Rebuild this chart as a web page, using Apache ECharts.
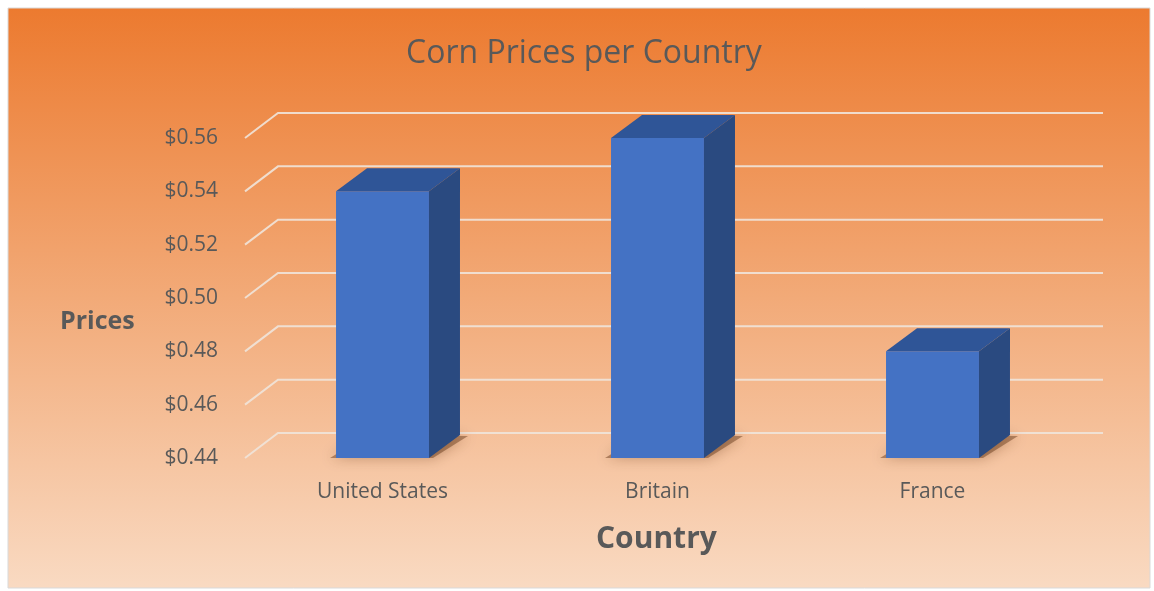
<!DOCTYPE html>
<html>
<head>
<meta charset="utf-8">
<script src="https://cdn.jsdelivr.net/npm/echarts@6/dist/echarts.min.js"></script>
<style>
  html, body { margin: 0; padding: 0; background: #fff; }
  #main { width: 1154px; height: 591px; }
</style>
</head>
<body>
<div id="main"></div>
<script>
const categories = ['United States', 'Britain', 'France'];
const prices = [0.54, 0.56, 0.48];
const yTicks = [0.44, 0.46, 0.48, 0.50, 0.52, 0.54, 0.56];

// 3d look: offset of the back wall and of the bar's back face
const WALL_DX = 33, WALL_DY = -25;
const BAR_DX = 31, BAR_DY = -23;

const textColor = '#595959';
const font = '"Open Sans", "Noto Sans", sans-serif';
const yMin = yTicks[0];

const chart = echarts.init(document.getElementById('main'));

function renderGridLine(params, api) {
  const cs = params.coordSys;
  const y = api.coord([0, api.value(1)])[1];
  const left = cs.x;
  const right = cs.x + cs.width;
  return {
    type: 'polyline',
    shape: {
      points: [
        [left, y],
        [left + WALL_DX, y + WALL_DY],
        [right + WALL_DX, y + WALL_DY]
      ]
    },
    style: { stroke: 'rgba(240,228,218,0.9)', lineWidth: 2, fill: null },
    silent: true
  };
}

function renderBar(params, api) {
  const top = api.coord([api.value(0), api.value(1)]);
  const base = api.coord([api.value(0), yMin]);
  const bw = api.size([1, 0])[0] * 0.338;
  const x0 = top[0] - bw / 2;
  const x1 = top[0] + bw / 2;
  const t = top[1], b = base[1];
  return {
    type: 'group',
    children: [
      {
        type: 'polygon',
        shape: { points: [[x0 - 6, b], [x1 + 4, b], [x1 + BAR_DX + 8, b + BAR_DY + 1], [x0 + BAR_DX, b + BAR_DY]] },
        style: { fill: 'rgba(95,50,20,0.45)', shadowBlur: 14, shadowColor: 'rgba(95,50,20,0.8)' }
      },
      {
        type: 'rect',
        shape: { x: x0, y: t, width: bw, height: b - t },
        style: { fill: '#4472C4' }
      },
      {
        type: 'polygon',
        shape: { points: [[x0, t], [x1, t], [x1 + BAR_DX, t + BAR_DY], [x0 + BAR_DX, t + BAR_DY]] },
        style: { fill: '#2F5597' }
      },
      {
        type: 'polygon',
        shape: { points: [[x1, t], [x1 + BAR_DX, t + BAR_DY], [x1 + BAR_DX, b + BAR_DY], [x1, b]] },
        style: { fill: '#2A4A80' }
      }
    ]
  };
}

const option = {
  backgroundColor: '#fff',
  animation: false,
  textStyle: { fontFamily: font },
  title: {
    text: 'Corn Prices per Country',
    left: 406,
    top: 38,
    padding: 0,
    textStyle: { color: textColor, fontSize: 32, fontWeight: 'normal', fontFamily: font }
  },
  graphic: [
    {
      type: 'rect',
      z: -100,
      silent: true,
      shape: { x: 8, y: 8, width: 1142, height: 580 },
      style: {
        stroke: '#d9d9d9',
        lineWidth: 1,
        fill: new echarts.graphic.LinearGradient(0, 0, 0, 1, [
          { offset: 0, color: '#EC7A2F' },
          { offset: 0.5, color: '#F2AA78' },
          { offset: 1, color: '#F9DAC2' }
        ])
      }
    },
    {
      type: 'text',
      left: 60,
      top: 309,
      style: { text: 'Prices', fill: textColor, font: 'bold 25px ' + font }
    },
    {
      type: 'text',
      left: 596,
      top: 524,
      style: { text: 'Country', fill: textColor, font: 'bold 30px ' + font }
    }
  ],
  grid: { left: 245, right: 84, top: 138, bottom: 133 },
  xAxis: {
    type: 'category',
    data: categories,
    axisLine: { show: false },
    axisTick: { show: false },
    axisLabel: { color: textColor, fontSize: 21, margin: 24, fontFamily: font }
  },
  yAxis: {
    type: 'value',
    min: yMin,
    max: yTicks[yTicks.length - 1],
    interval: 0.02,
    splitLine: { show: false },
    axisLine: { show: false },
    axisTick: { show: false },
    axisLabel: {
      color: textColor,
      fontSize: 21,
      margin: 27,
      fontFamily: font,
      formatter: v => '$' + v.toFixed(2)
    }
  },
  series: [
    {
      type: 'custom',
      name: 'grid',
      z: 1,
      renderItem: renderGridLine,
      data: yTicks.map(v => [0, v]),
      encode: { x: 0, y: 1 }
    },
    {
      type: 'custom',
      name: 'Prices',
      z: 3,
      renderItem: renderBar,
      data: prices.map((v, i) => [i, v]),
      encode: { x: 0, y: 1 }
    }
  ]
};

chart.setOption(option);
</script>
</body>
</html>
